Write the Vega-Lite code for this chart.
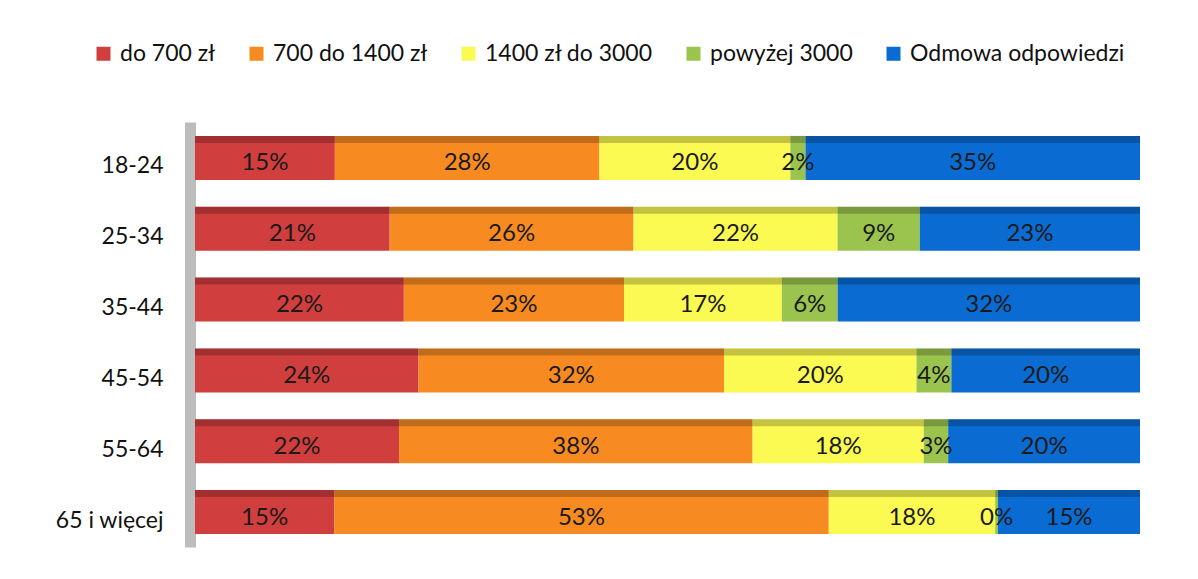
{
  "$schema": "https://vega.github.io/schema/vega-lite/v6.json",
  "autosize": "none",
  "width": 945,
  "height": 425,
  "padding": {"left": 195, "top": 122, "right": 58, "bottom": 32},
  "background": "white",
  "config": {
    "font": "Lato",
    "view": {"stroke": null}
  },
  "data": {
    "values": [
      {"age": "18-24", "cat": "do 700 zł", "n": 1, "value": 0.148},
      {"age": "18-24", "cat": "700 do 1400 zł", "n": 2, "value": 0.280},
      {"age": "18-24", "cat": "1400 zł do 3000", "n": 3, "value": 0.202},
      {"age": "18-24", "cat": "powyżej 3000", "n": 4, "value": 0.016},
      {"age": "18-24", "cat": "Odmowa odpowiedzi", "n": 5, "value": 0.354},
      {"age": "25-34", "cat": "do 700 zł", "n": 1, "value": 0.206},
      {"age": "25-34", "cat": "700 do 1400 zł", "n": 2, "value": 0.258},
      {"age": "25-34", "cat": "1400 zł do 3000", "n": 3, "value": 0.216},
      {"age": "25-34", "cat": "powyżej 3000", "n": 4, "value": 0.087},
      {"age": "25-34", "cat": "Odmowa odpowiedzi", "n": 5, "value": 0.233},
      {"age": "35-44", "cat": "do 700 zł", "n": 1, "value": 0.221},
      {"age": "35-44", "cat": "700 do 1400 zł", "n": 2, "value": 0.233},
      {"age": "35-44", "cat": "1400 zł do 3000", "n": 3, "value": 0.167},
      {"age": "35-44", "cat": "powyżej 3000", "n": 4, "value": 0.059},
      {"age": "35-44", "cat": "Odmowa odpowiedzi", "n": 5, "value": 0.320},
      {"age": "45-54", "cat": "do 700 zł", "n": 1, "value": 0.237},
      {"age": "45-54", "cat": "700 do 1400 zł", "n": 2, "value": 0.324},
      {"age": "45-54", "cat": "1400 zł do 3000", "n": 3, "value": 0.204},
      {"age": "45-54", "cat": "powyżej 3000", "n": 4, "value": 0.037},
      {"age": "45-54", "cat": "Odmowa odpowiedzi", "n": 5, "value": 0.200},
      {"age": "55-64", "cat": "do 700 zł", "n": 1, "value": 0.217},
      {"age": "55-64", "cat": "700 do 1400 zł", "n": 2, "value": 0.376},
      {"age": "55-64", "cat": "1400 zł do 3000", "n": 3, "value": 0.182},
      {"age": "55-64", "cat": "powyżej 3000", "n": 4, "value": 0.026},
      {"age": "55-64", "cat": "Odmowa odpowiedzi", "n": 5, "value": 0.204},
      {"age": "65 i więcej", "cat": "do 700 zł", "n": 1, "value": 0.148},
      {"age": "65 i więcej", "cat": "700 do 1400 zł", "n": 2, "value": 0.526},
      {"age": "65 i więcej", "cat": "1400 zł do 3000", "n": 3, "value": 0.177},
      {"age": "65 i więcej", "cat": "powyżej 3000", "n": 4, "value": 0.003},
      {"age": "65 i więcej", "cat": "Odmowa odpowiedzi", "n": 5, "value": 0.151}
    ]
  },
  "encoding": {
    "y": {
      "field": "age",
      "type": "nominal",
      "sort": null,
      "scale": {"paddingInner": 0, "paddingOuter": 0},
      "axis": {
        "title": null,
        "ticks": false,
        "labelFontSize": 23,
        "labelColor": "#111111",
        "labelPadding": 27,
        "labelOffset": 9,
        "offset": 5,
        "domainColor": "#bdbdbd",
        "domainWidth": 11
      }
    },
    "x": {
      "field": "value",
      "type": "quantitative",
      "stack": "normalize",
      "axis": null
    },
    "order": {"field": "n", "type": "quantitative"}
  },
  "layer": [
    {
      "mark": {"type": "bar", "size": 44, "yOffset": 0.5},
      "encoding": {
        "color": {
          "field": "cat",
          "type": "nominal",
          "scale": {
            "domain": ["do 700 zł", "700 do 1400 zł", "1400 zł do 3000", "powyżej 3000", "Odmowa odpowiedzi"],
            "range": ["#d03e3e", "#f78b22", "#fafa52", "#9bc44e", "#0a6cd2"]
          },
          "legend": {
            "title": null,
            "orient": "none",
            "direction": "horizontal",
            "columns": 5,
            "legendX": -103,
            "legendY": -80,
            "symbolType": "square",
            "symbolSize": 196,
            "symbolStrokeWidth": 0,
            "labelFontSize": 23,
            "labelColor": "#111111",
            "labelOffset": 5,
            "columnPadding": 29,
            "labelLimit": 400
          }
        }
      }
    },
    {
      "mark": {"type": "bar", "size": 7, "yOffset": -18, "color": "#000000", "opacity": 0.22},
      "encoding": {
        "detail": {"field": "cat", "type": "nominal"}
      }
    },
    {
      "mark": {"type": "text", "fontSize": 24, "color": "#1a1a1a", "dy": 6},
      "encoding": {
        "x": {
          "field": "value",
          "type": "quantitative",
          "stack": "normalize",
          "bandPosition": 0.5
        },
        "detail": {"field": "cat", "type": "nominal"},
        "text": {"field": "value", "type": "quantitative", "format": ".0%"}
      }
    }
  ]
}
